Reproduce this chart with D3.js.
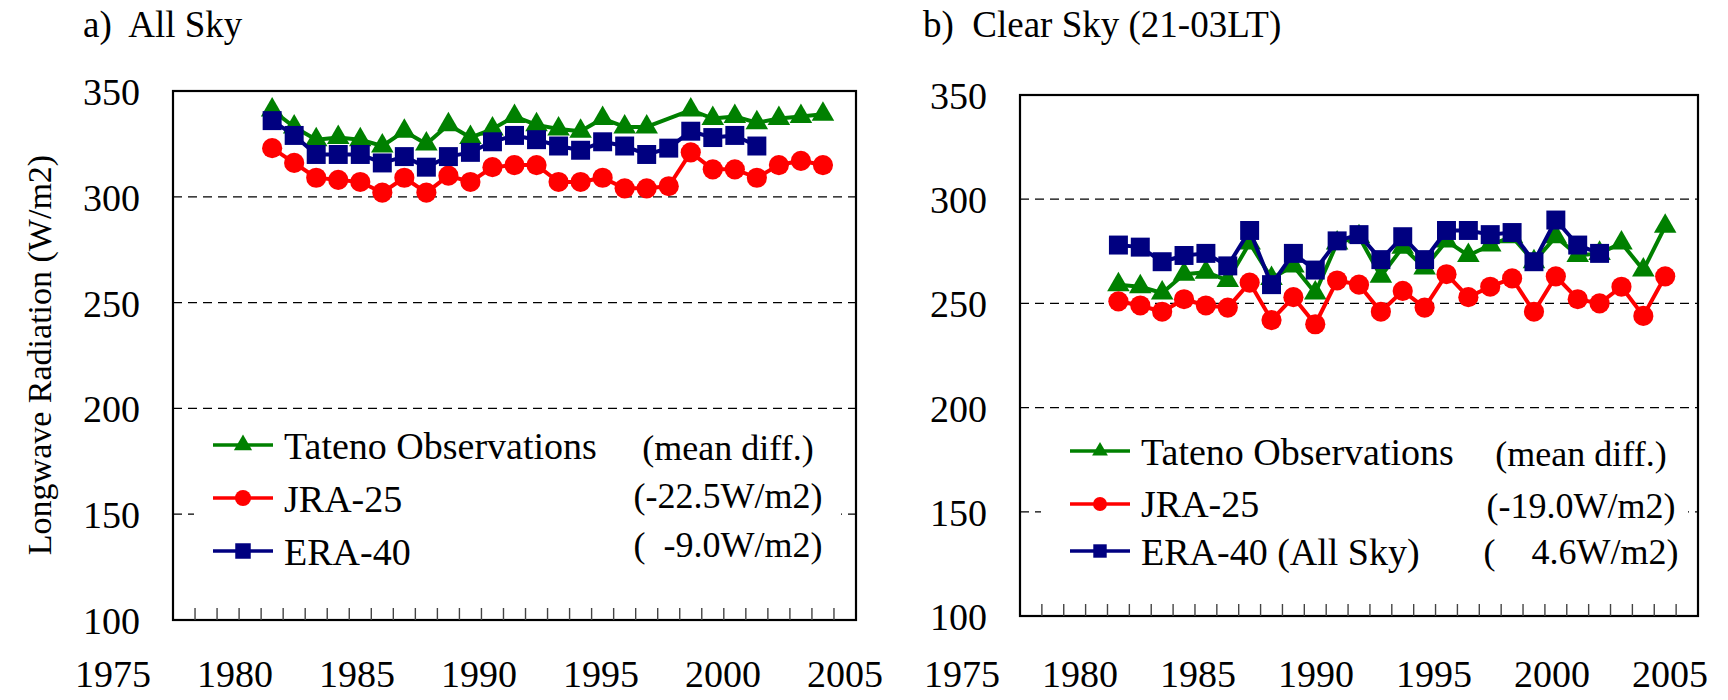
<!DOCTYPE html>
<html lang="en">
<head>
<meta charset="utf-8">
<title>Longwave Radiation - Tateno</title>
<script src="https://cdn.jsdelivr.net/npm/d3@7"></script>
<style>
  body { margin: 0; background: #fff; }
  svg text { font-family: "Liberation Serif", "Times New Roman", serif; fill: #000; white-space: pre; }
</style>
</head>
<body>
<svg id="chart" width="1728" height="700" font-family="Liberation Serif, Times New Roman, serif"></svg>
<script>
/** categories of the x axis (one band per year) */
var axisYears = [1975, 1976, 1977, 1978, 1979, 1980, 1981, 1982, 1983, 1984, 1985, 1986, 1987, 1988, 1989, 1990,
                 1991, 1992, 1993, 1994, 1995, 1996, 1997, 1998, 1999, 2000, 2001, 2002, 2003, 2004, 2005];
var xTickLabels = ["1975", "1980", "1985", "1990", "1995", "2000", "2005"];
var yTickValues = [100, 150, 200, 250, 300, 350];
var gridValues = [150, 200, 250, 300];

/** years of each series */
var obsYears = [1979, 1980, 1981, 1982, 1983, 1984, 1985, 1986, 1987, 1988, 1989, 1990, 1991,
                1992, 1993, 1994, 1995, 1996, 1997, 1998, 1999, 2000, 2001, 2002, 2003, 2004];
var eraYears = [1979, 1980, 1981, 1982, 1983, 1984, 1985, 1986, 1987, 1988, 1989, 1990,
                1991, 1992, 1993, 1994, 1995, 1996, 1997, 1998, 1999, 2000, 2001];

/** a) all sky (W/m2) */
var tatenoAll = [341, 333, 327, 328, 327, 324, 331, 325, 334, 328, 332, 338, 334,
                 332, 331, 337, 333, 333, null, 341, 337, 338, 335, 337, 338, 339];
var jraAll = [323, 316, 309, 308, 307, 302, 309, 302, 310, 307, 314, 315, 315,
              307, 307, 309, 304, 304, 305, 321, 313, 313, 309, 315, 317, 315];
var eraAll = [336, 329, 320, 320, 320, 316, 319, 314, 319, 321, 326, 329,
              327, 324, 322, 326, 324, 320, 323, 331, 328, 329, 324];

/** b) clear sky 21-03LT (W/m2) */
var tatenoClr = [259, 258, 255, 264, 265, 261, 279, 262, 268, 255, 279, 282, 263,
                 277, 267, 280, 273, 278, 282, 270, 282, 273, 274, 279, 266, 287];
var jraClr = [251, 249, 246, 252, 249, 248, 260, 242, 253, 240, 261, 259, 246,
              256, 248, 264, 253, 258, 262, 246, 263, 252, 250, 258, 244, 263];
var eraClr = [278, 277, 270, 273, 274, 268, 285, 259, 274, 266, 280, 283,
              271, 282, 271, 285, 285, 283, 284, 270, 290, 278, 274];

var legendA = ["Tateno Observations", "JRA-25", "ERA-40"];
var diffA = ["(mean diff.)", "(-22.5W/m2)", "(  -9.0W/m2)"];
var legendB = ["Tateno Observations", "JRA-25", "ERA-40 (All Sky)"];
var diffB = ["(mean diff.)", "(-19.0W/m2)", "(    4.6W/m2)"];

var green = "#008000", red = "#ff0000", navy = "#000080";
var svg = d3.select("#chart");

/** draws one panel: frame, grid, axis labels, series and legend */
function drawPanel(p) {
    var x = d3.scaleBand().domain(axisYears).range([p.left, p.right]).padding(0);
    var y = d3.scaleLinear().domain([100, 350]).range([p.bottom, p.top]);
    var xl = d3.scalePoint().domain(xTickLabels).range(p.labelRange);
    var g = svg.append("g");

    g.append("text").attr("x", p.titleX).attr("y", 37).attr("font-size", 37).text(p.title);

    g.selectAll(".grid").data(gridValues).enter().append("line")
        .attr("x1", p.left).attr("x2", p.right)
        .attr("y1", function(d) { return y(d); }).attr("y2", function(d) { return y(d); })
        .attr("stroke", "#000").attr("stroke-width", 1.2).attr("stroke-dasharray", "9,6");

    // legend box is white and hides the grid behind it
    g.append("rect")
        .attr("x", p.legBox[0]).attr("y", p.legBox[1])
        .attr("width", p.legBox[2]).attr("height", p.legBox[3]).attr("fill", "#fff");

    g.append("rect")
        .attr("x", p.left).attr("y", p.top)
        .attr("width", p.right - p.left).attr("height", p.bottom - p.top)
        .attr("fill", "none").attr("stroke", "#000").attr("stroke-width", 2.2);

    // year ticks sit on the band boundaries, pointing inward
    g.selectAll(".xtick").data(axisYears.slice(1)).enter().append("line")
        .attr("x1", function(d) { return x(d); }).attr("x2", function(d) { return x(d); })
        .attr("y1", p.bottom).attr("y2", p.bottom - 12)
        .attr("stroke", "#444").attr("stroke-width", 1.4);

    g.selectAll(".ylab").data(yTickValues).enter().append("text")
        .attr("x", p.left - 33).attr("y", function(d) { return y(d) + 14; })
        .attr("text-anchor", "end").attr("font-size", 38)
        .text(function(d) { return d; });

    g.selectAll(".xlab").data(xTickLabels).enter().append("text")
        .attr("x", function(d) { return xl(d); }).attr("y", 687)
        .attr("text-anchor", "middle").attr("font-size", 38)
        .text(function(d) { return d; });

    function series(years, values, color, symbol, size) {
        var pts = years.map(function(yr, i) { return {yr: yr, v: values[i]}; })
                       .filter(function(d) { return d.v != null; });
        var cx = function(d) { return x(d.yr) + x.bandwidth() / 2; };
        g.append("path").datum(pts)
            .attr("fill", "none").attr("stroke", color).attr("stroke-width", 4)
            .attr("stroke-linejoin", "round")
            .attr("d", d3.line().x(cx).y(function(d) { return y(d.v); }));
        g.selectAll(null).data(pts).enter().append("path")
            .attr("transform", function(d) { return "translate(" + cx(d) + "," + y(d.v) + ")"; })
            .attr("fill", color)
            .attr("d", d3.symbol().type(symbol).size(size));
    }
    series(obsYears, p.obs, green, d3.symbolTriangle, 220);
    series(obsYears, p.jra, red, d3.symbolCircle, 320);
    series(eraYears, p.era, navy, d3.symbolSquare, 360);

    /** legend */
    var colors = [green, red, navy];
    var symbols = [d3.symbolTriangle, d3.symbolCircle, d3.symbolSquare];
    var sizes = [p.legSize * 0.6, p.legSize * 0.85, p.legSize];
    p.legend.forEach(function(name, i) {
        var ly = p.legLines[i];
        g.append("line").attr("x1", p.legX).attr("x2", p.legX + 60)
            .attr("y1", ly).attr("y2", ly)
            .attr("stroke", colors[i]).attr("stroke-width", 3.4);
        g.append("path").attr("transform", "translate(" + (p.legX + 30) + "," + ly + ")")
            .attr("fill", colors[i]).attr("d", d3.symbol().type(symbols[i]).size(sizes[i]));
        g.append("text").attr("x", p.legX + 71).attr("y", p.legRows[i]).attr("font-size", 38).text(name);
    });
    p.diffs.forEach(function(s, i) {
        g.append("text").attr("x", p.diffX).attr("y", p.diffRows[i])
            .attr("text-anchor", "middle").attr("font-size", 36).text(s);
    });
}

drawPanel({
    left: 173, right: 856, top: 91, bottom: 620,
    labelRange: [113, 845], title: "a)  All Sky", titleX: 83,
    obs: tatenoAll, jra: jraAll, era: eraAll,
    legBox: [194, 418, 647, 180],
    legend: legendA, legX: 213, legLines: [445, 498, 551], legRows: [459, 512, 565], legSize: 240,
    diffs: diffA, diffX: 728, diffRows: [460, 508, 557]
});
drawPanel({
    left: 1020, right: 1698, top: 95, bottom: 616,
    labelRange: [962, 1670], title: "b)  Clear Sky (21-03LT)", titleX: 923,
    obs: tatenoClr, jra: jraClr, era: eraClr,
    legBox: [1041, 422, 647, 175],
    legend: legendB, legX: 1070, legLines: [451, 504, 551], legRows: [465, 517, 565], legSize: 180,
    diffs: diffB, diffX: 1581, diffRows: [466, 518, 564]
});

/** y axis title of panel a */
svg.append("text")
    .attr("transform", "translate(51,355) rotate(-90)")
    .attr("text-anchor", "middle").attr("font-size", 34)
    .text("Longwave Radiation (W/m2)");
</script>
</body>
</html>
